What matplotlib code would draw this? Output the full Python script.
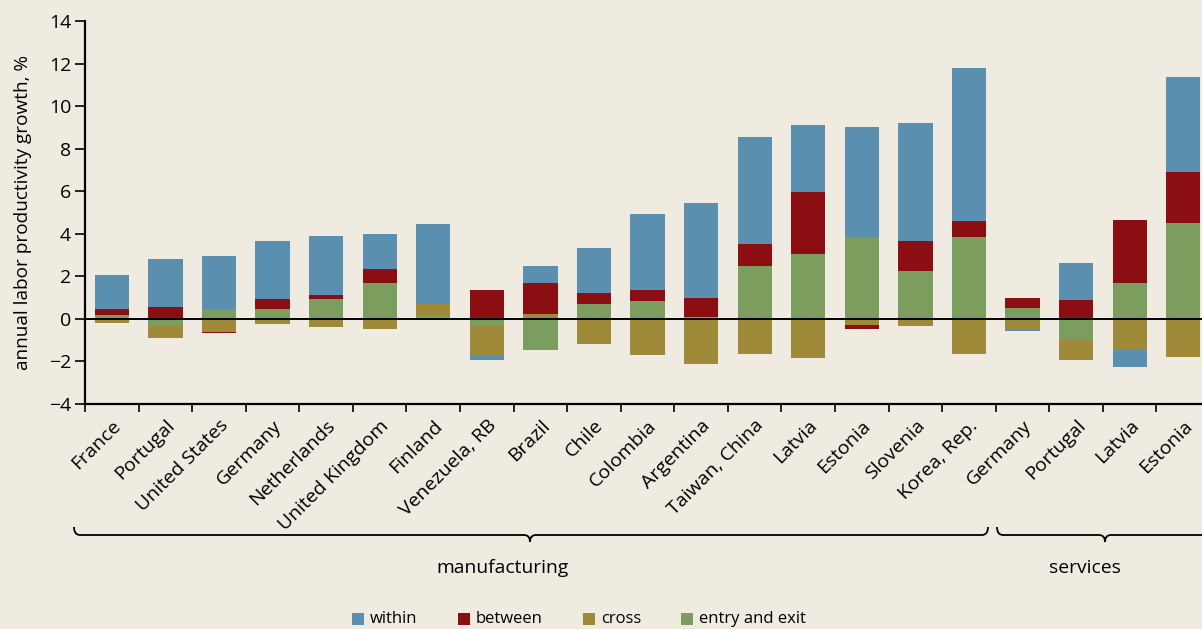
import numpy as np
import matplotlib
matplotlib.use("Agg")
import matplotlib.pyplot as plt
from matplotlib.path import Path
from matplotlib.patches import PathPatch, Rectangle

plt.rcParams['font.family'] = ['Open Sans', 'DejaVu Sans']

# countries (manufacturing first, then services)
labels = ['France', 'Portugal', 'United States', 'Germany', 'Netherlands',
          'United Kingdom', 'Finland', 'Venezuela, RB', 'Brazil', 'Chile',
          'Colombia', 'Argentina', 'Taiwan, China', 'Latvia', 'Estonia',
          'Slovenia', 'Korea, Rep.',
          'Germany', 'Portugal', 'Latvia', 'Estonia']

# decomposition components (percentage points)
entry_exit = [0.20, -0.34, 0.45, 0.45, 0.92, 1.71, 0.15, -0.35, -1.48, 0.68,
              0.82, 0.10, 2.47, 3.03, 3.83, 2.23, 3.83,
              0.49, -1.00, 1.71, 4.53]
cross = [-0.20, -0.58, -0.60, -0.26, -0.40, -0.49, 0.55, -1.36, 0.21, -1.20,
         -1.71, -2.14, -1.67, -1.86, -0.31, -0.35, -1.67,
         -0.49, -0.95, -1.48, -1.81]
between = [0.25, 0.54, -0.08, 0.47, 0.18, 0.64, 0.0, 1.34, 1.50, 0.56,
           0.56, 0.90, 1.03, 2.91, -0.18, 1.41, 0.75,
           0.47, 0.87, 2.92, 2.35]
within = [1.60, 2.26, 2.50, 2.73, 2.80, 1.65, 3.75, -0.24, 0.79, 2.10,
          3.57, 4.45, 5.05, 3.16, 5.17, 5.56, 7.22,
          -0.09, 1.78, -0.80, 4.47]

bg = '#f0ebe1'
colors = {'within': '#5a8fb0', 'between': '#8a0e12',
          'cross': '#9f8a3a', 'entry and exit': '#7b9e5f'}

W, H = 1202, 629
fig = plt.figure(figsize=(W / 100, H / 100), dpi=100, facecolor=bg)
ax = fig.add_axes([85 / W, (H - 404) / H, (1210 - 85) / W, (404 - 21) / H])
ax.set_facecolor(bg)

n = len(labels)
x = np.arange(n) + 0.5
pos_bottom = np.zeros(n)
neg_bottom = np.zeros(n)
for name, vals in [('entry and exit', entry_exit), ('cross', cross),
                   ('between', between), ('within', within)]:
    v = np.array(vals)
    b = np.where(v >= 0, pos_bottom, neg_bottom)
    ax.bar(x, v, width=0.64, bottom=b, color=colors[name], linewidth=0)
    pos_bottom += np.where(v >= 0, v, 0)
    neg_bottom += np.where(v < 0, v, 0)

ax.axhline(0, color='black', lw=1.4)
ax.set_xlim(0, n)
ax.set_ylim(-4, 14)
ax.set_yticks(range(-4, 15, 2))
ax.set_yticklabels([str(t).replace('-', '\u2212') for t in range(-4, 15, 2)])
ax.set_xticks(range(n + 1))
ax.set_xticklabels([])
ax.set_xticks(x, minor=True)
ax.set_xticklabels(labels, minor=True, rotation=45, ha='right',
                   rotation_mode='anchor', fontsize=14)
ax.tick_params(axis='x', which='minor', length=0, pad=9)
ax.tick_params(axis='x', which='major', length=6, width=1.2, direction='out')
ax.tick_params(axis='y', length=7, width=1.2, labelsize=14, pad=3)
for s in ['top', 'right']:
    ax.spines[s].set_visible(False)
for s in ['left', 'bottom']:
    ax.spines[s].set_linewidth(1.6)
ax.set_ylabel('annual labor productivity growth, %', fontsize=13.7, labelpad=12)

# overlay for braces and legend in pixel coordinates
ov = fig.add_axes([0, 0, 1, 1])
ov.set_xlim(0, W)
ov.set_ylim(H, 0)
ov.axis('off')


def brace(x0, x1, xm, y=535, r=6, d=7):
    verts = [(x0, y - 8), (x0, y), (x0 + r, y), (xm - r, y), (xm, y), (xm, y + d),
             (xm, y), (xm + r, y), (x1 - r, y), (x1, y), (x1, y - 8)]
    codes = [Path.MOVETO, Path.CURVE3, Path.CURVE3, Path.LINETO, Path.CURVE3,
             Path.CURVE3, Path.CURVE3, Path.CURVE3, Path.LINETO, Path.CURVE3,
             Path.CURVE3]
    ov.add_patch(PathPatch(Path(verts, codes), fill=False, lw=1.3, color='black'))


brace(74, 988, 530)
brace(997, 1213, 1105)
ov.text(503, 568, 'manufacturing', ha='center', va='center', fontsize=13.9)
ov.text(1085, 568, 'services', ha='center', va='center', fontsize=13.9)

legend_items = [('within', 352), ('between', 458), ('cross', 583),
                ('entry and exit', 681)]
for name, lx in legend_items:
    ov.add_patch(Rectangle((lx, 613), 12, 12, color=colors[name], lw=0))
    ov.text(lx + 18, 619, name, ha='left', va='center', fontsize=12)

fig.savefig('out.png', dpi=100, facecolor=bg)
